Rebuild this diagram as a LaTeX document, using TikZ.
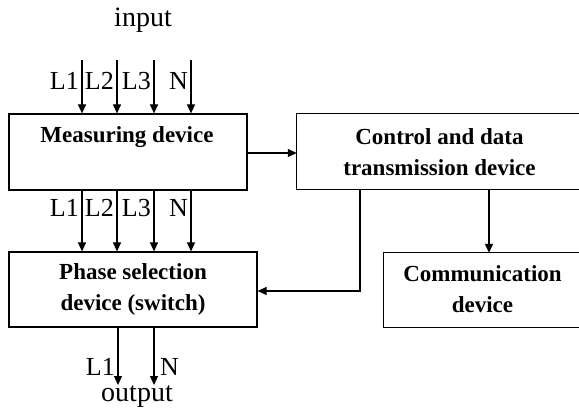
\documentclass[tikz,border=0pt]{standalone}
\usepackage{fontspec}
\setmainfont{Liberation Serif}
\usetikzlibrary{arrows.meta}
\begin{document}
\begin{tikzpicture}[x=1pt,y=-1pt,
  box/.style={draw, line width=1.2pt, inner sep=0pt},
  obox/.style={inner sep=0pt},
  btxt/.style={font=\fontsize{23}{31}\selectfont\bfseries, align=center, inner sep=0pt},
  lbl/.style={font=\fontsize{26}{30}\selectfont, inner sep=0pt},
  big/.style={font=\fontsize{28}{30}\selectfont, inner sep=0pt},
  edge/.style={line width=1.2pt},
  arr/.style={line width=1.2pt, -{Triangle[length=9pt,width=8pt]}}]
\useasboundingbox (0,0) rectangle (579,409);
% boxes
\node[box, minimum width=238pt, minimum height=76pt] (meas) at (128,152) {};
\node[box, minimum width=248pt, minimum height=75pt] (phase) at (133,289.5) {};
\node[obox, minimum width=300pt, minimum height=75pt] (ctrl) at (447,151.5) {};
\node[obox, minimum width=212pt, minimum height=74pt] (comm) at (490,290) {};
\draw[edge] (579,0 |- ctrl.north) -| (ctrl.south west) -- (579,0 |- ctrl.south);
\draw[edge] (579,0 |- comm.north) -| (comm.south west) -- (579,0 |- comm.south);
% texts
\node[btxt] (tmeas) at (127,137) {Measuring device};
\node[btxt] (tphase) at (133,289) {Phase selection\\device (switch)};
\node[btxt] (tctrl) at (439.5,152) {Control and data\\transmission device};
\node[btxt] (tcomm) at (482.5,289) {Communication\\device};
% input
\node[big] (input) at (143,20) {input};
\foreach \i/\x/\t in {1/82/L1,2/117/L2,3/154/L3,4/191/N}{
  \coordinate (in\i) at (\x,60);
  \coordinate (mb\i) at (\x,190);
  \draw[arr] (in\i) -- (in\i |- meas.north);
  \draw[arr] (mb\i) -- (mb\i |- phase.north);
  \node[lbl, anchor=east] (la\i) at (\x-3,81) {\t};
  \node[lbl, anchor=east] (lb\i) at (\x-3,208) {\t};
}
% output
\coordinate (o1) at (118,327);
\coordinate (o2) at (154,327);
\coordinate (oe1) at (118,385);
\coordinate (oe2) at (154,385);
\draw[arr] (o1) -- (oe1);
\draw[arr] (o2) -- (oe2);
\node[lbl, anchor=east] (lo1) at (115,367) {L1};
\node[lbl, anchor=west] (lo2) at (160,367) {N};
\node[big] (output) at (137,397) {output};
% connections
\draw[arr] (meas.east |- 0,153) -- (ctrl.west |- 0,153);
\coordinate (cc) at (489,189);
\draw[arr] (cc) -- (cc |- comm.north);
\coordinate (cd) at (360,189);
\draw[arr] (cd) -- (360,291) -- (phase.east |- 0,291);
\end{tikzpicture}
\end{document}
